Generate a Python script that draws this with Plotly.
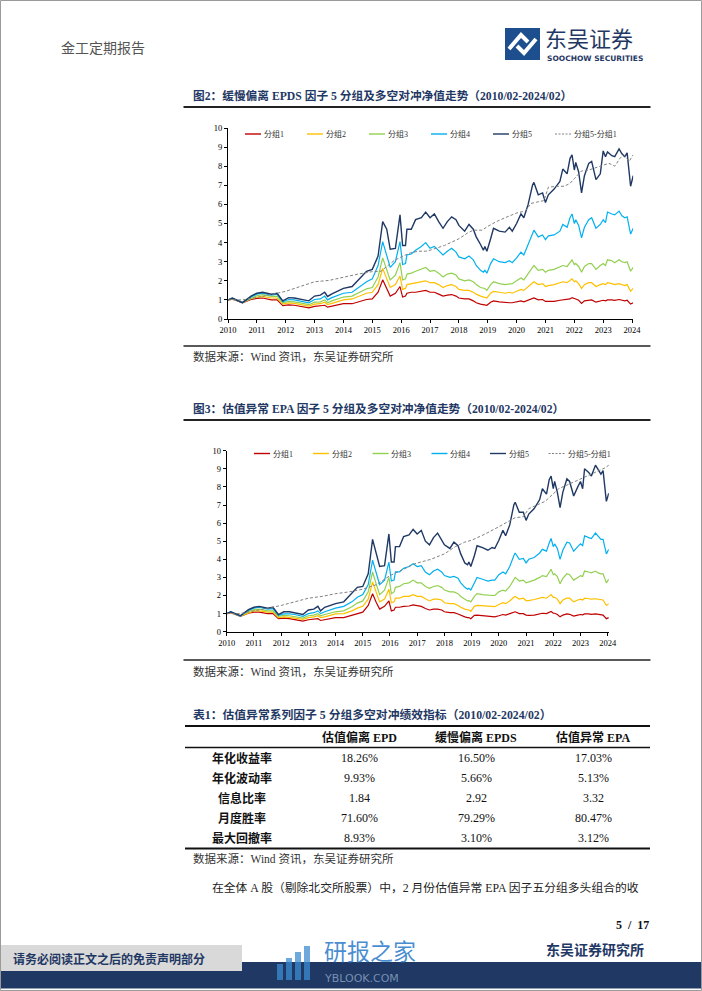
import plotly.graph_objects as go

W, H = 702, 991
def px(x): return x / W
def py(y): return 1 - y / H

# ---------------- data ----------------
years = list(range(2010, 2025))
year_labels = [str(y) for y in years]
series_names = ["分组1", "分组2", "分组3", "分组4", "分组5"]
ls_name = "分组5-分组1"

dates = [2010.0, 2010.15, 2010.5, 2010.8, 2011.0, 2011.2, 2011.5, 2011.7, 2011.9, 2012.1,
         2012.3, 2012.5, 2012.8, 2013.0, 2013.2, 2013.35, 2013.45, 2013.6, 2014.0, 2014.3,
         2014.6, 2014.8, 2015.0, 2015.2, 2015.36, 2015.5, 2015.62, 2015.8, 2015.96, 2016.05,
         2016.15, 2016.2, 2016.35, 2016.5, 2016.7, 2016.85, 2017.0, 2017.15, 2017.3, 2017.45,
         2017.6, 2017.75, 2017.9, 2018.0, 2018.2, 2018.35, 2018.5, 2018.6, 2018.75, 2018.85,
         2018.9, 2018.97, 2019.1, 2019.2, 2019.4, 2019.6, 2019.75, 2019.85, 2020.0, 2020.15,
         2020.25, 2020.4, 2020.55, 2020.6, 2020.75, 2020.9, 2021.0, 2021.1, 2021.3, 2021.5,
         2021.6, 2021.75, 2021.85, 2021.92, 2022.0, 2022.05, 2022.15, 2022.25, 2022.35, 2022.5,
         2022.6, 2022.75, 2022.9, 2023.0, 2023.08, 2023.15, 2023.3, 2023.4, 2023.55, 2023.65,
         2023.75, 2023.83, 2023.95, 2024.04]

# Figure 2: EPDS
epds_g1 = [1.00, 1.05, 0.85, 1.02, 1.08, 1.10, 1.00, 1.00, 0.70, 0.74,
           0.72, 0.66, 0.58, 0.66, 0.68, 0.72, 0.62, 0.68, 0.80, 0.80,
           0.95, 1.02, 1.05, 1.40, 2.05, 1.60, 1.20, 1.35, 1.70, 1.15,
           1.20, 1.35, 1.40, 1.40, 1.45, 1.50, 1.40, 1.40, 1.30, 1.20,
           1.25, 1.28, 1.20, 1.10, 1.05, 1.05, 0.95, 0.85, 0.78, 0.75,
           0.75, 0.72, 0.88, 0.95, 0.90, 0.85, 0.85, 0.85, 0.90, 0.95,
           0.90, 0.98, 1.08, 1.10, 1.00, 1.02, 0.92, 0.92, 0.92, 0.98,
           1.00, 1.00, 1.05, 1.12, 1.05, 1.05, 0.98, 0.82, 0.95, 1.00,
           1.00, 0.88, 0.95, 0.98, 0.95, 1.00, 1.00, 0.98, 1.02, 0.98,
           0.95, 0.98, 0.78, 0.85]
epds_g2 = [1.00, 1.07, 0.86, 1.06, 1.15, 1.18, 1.10, 1.10, 0.78, 0.84,
           0.82, 0.76, 0.68, 0.78, 0.80, 0.88, 0.75, 0.82, 1.00, 1.05,
           1.25, 1.35, 1.40, 1.80, 2.65, 2.10, 1.65, 1.80, 2.25, 1.55,
           1.60, 1.80, 1.85, 1.90, 1.95, 2.00, 1.90, 1.90, 1.80, 1.65,
           1.75, 1.80, 1.70, 1.55, 1.50, 1.50, 1.40, 1.30, 1.20, 1.15,
           1.15, 1.10, 1.35, 1.45, 1.40, 1.35, 1.40, 1.35, 1.45, 1.55,
           1.50, 1.70, 1.90, 1.95, 1.80, 1.85, 1.70, 1.75, 1.80, 1.90,
           1.95, 1.90, 2.00, 2.10, 1.95, 2.00, 1.85, 1.60, 1.80, 1.90,
           1.90, 1.70, 1.80, 1.85, 1.80, 1.90, 1.85, 1.80, 1.85, 1.80,
           1.75, 1.80, 1.45, 1.60]
epds_g3 = [1.00, 1.08, 0.87, 1.10, 1.22, 1.28, 1.18, 1.20, 0.85, 0.92,
           0.90, 0.84, 0.75, 0.88, 0.90, 1.00, 0.85, 0.95, 1.15, 1.20,
           1.45, 1.58, 1.65, 2.20, 3.20, 2.60, 2.05, 2.30, 2.95, 2.05,
           2.10, 2.35, 2.40, 2.50, 2.60, 2.70, 2.50, 2.55, 2.40, 2.20,
           2.35, 2.40, 2.30, 2.10, 2.00, 2.05, 1.95, 1.80, 1.65, 1.60,
           1.60, 1.50, 1.80, 1.95, 1.85, 1.80, 1.85, 1.85, 2.00, 2.15,
           2.05, 2.35, 2.70, 2.80, 2.55, 2.60, 2.45, 2.55, 2.60, 2.75,
           2.80, 2.75, 2.95, 3.10, 2.85, 2.90, 2.75, 2.45, 2.75, 2.90,
           2.90, 2.60, 2.80, 2.90, 2.80, 3.10, 3.05, 2.95, 3.10, 3.00,
           2.95, 3.00, 2.50, 2.70]
epds_g4 = [1.00, 1.09, 0.85, 1.15, 1.30, 1.35, 1.25, 1.30, 0.90, 1.02,
           1.00, 0.95, 0.85, 1.02, 1.05, 1.20, 1.00, 1.12, 1.35, 1.40,
           1.75, 1.95, 2.10, 2.80, 4.05, 3.30, 2.70, 3.00, 4.05, 2.85,
           2.90, 3.35, 3.40, 3.60, 3.80, 4.00, 3.70, 3.80, 3.60, 3.35,
           3.55, 3.70, 3.50, 3.25, 3.15, 3.30, 3.10, 2.80, 2.55, 2.45,
           2.55, 2.40, 2.90, 3.15, 3.00, 2.95, 3.05, 2.95, 3.20, 3.50,
           3.35, 3.90, 4.50, 4.65, 4.30, 4.40, 4.15, 4.35, 4.40, 4.60,
           4.95, 4.80, 5.30, 5.50, 5.00, 5.20, 4.90, 4.25, 4.80, 5.20,
           5.30, 4.75, 4.95, 5.20, 5.05, 5.60, 5.50, 5.45, 5.65, 5.40,
           5.30, 5.35, 4.45, 4.75]
epds_g5 = [1.00, 1.10, 0.86, 1.20, 1.35, 1.40, 1.30, 1.35, 0.95, 1.12,
           1.10, 1.05, 0.95, 1.20, 1.25, 1.40, 1.18, 1.32, 1.60, 1.70,
           2.20, 2.50, 2.60, 3.30, 5.10, 4.70, 3.65, 3.70, 5.45, 3.85,
           3.85, 4.70, 4.70, 5.20, 5.30, 5.60, 5.30, 5.50, 5.10, 4.75,
           5.10, 5.35, 5.20, 4.90, 4.60, 4.95, 4.70, 4.30, 3.90, 3.60,
           3.80, 3.55, 4.20, 4.75, 4.60, 4.55, 4.80, 4.60, 5.00, 5.50,
           5.30, 6.00, 7.00, 7.15, 6.50, 6.60, 6.10, 6.50, 6.80, 7.20,
           7.85, 7.60, 8.40, 8.60, 7.80, 8.20, 7.70, 6.60, 7.50, 8.15,
           8.25, 7.30, 7.60, 8.80, 8.50, 8.75, 8.55, 8.50, 8.90, 8.65,
           8.50, 8.70, 6.95, 7.50]
epds_ls_dates = [2010.0, 2010.5, 2011.0, 2011.5, 2012.0, 2012.5, 2013.0, 2013.5, 2014.0, 2014.5,
                 2015.0, 2015.3, 2015.5, 2015.75, 2016.0, 2016.3, 2016.6, 2016.85, 2017.0, 2017.5,
                 2018.0, 2018.3, 2018.5, 2018.8, 2019.0, 2019.3, 2019.6, 2020.0, 2020.3, 2020.5,
                 2020.7, 2020.95, 2021.1, 2021.4, 2021.65, 2021.85, 2022.0, 2022.25, 2022.5, 2022.8,
                 2023.0, 2023.2, 2023.4, 2023.6, 2023.75, 2023.9, 2024.04]
epds_ls = [1.00, 1.00, 1.12, 1.30, 1.45, 1.70, 1.95, 2.02, 2.20, 2.35,
           2.48, 2.50, 2.75, 3.05, 3.25, 3.45, 3.55, 3.55, 3.60, 3.85,
           4.20, 4.50, 4.65, 4.65, 4.85, 5.10, 5.30, 5.55, 5.65, 6.05,
           6.12, 6.20, 6.90, 6.95, 6.95, 7.10, 7.35, 7.75, 7.80, 7.95,
           8.05, 8.15, 8.00, 8.45, 8.55, 8.25, 8.60]

# Figure 3: EPA
epa_g1 = [1.00, 1.05, 0.85, 1.02, 1.08, 1.08, 1.00, 1.00, 0.72, 0.75,
          0.72, 0.65, 0.58, 0.66, 0.68, 0.72, 0.62, 0.66, 0.78, 0.78,
          0.90, 1.02, 1.08, 1.45, 2.10, 1.60, 1.25, 1.40, 1.70, 1.15,
          1.20, 1.35, 1.35, 1.40, 1.42, 1.48, 1.42, 1.40, 1.28, 1.20,
          1.25, 1.25, 1.20, 1.10, 1.05, 1.05, 0.98, 0.90, 0.82, 0.78,
          0.78, 0.72, 0.90, 0.92, 0.88, 0.85, 0.82, 0.82, 0.88, 0.95,
          0.92, 0.98, 1.08, 1.10, 1.00, 1.00, 0.92, 0.90, 0.92, 0.98,
          1.02, 1.00, 1.05, 1.12, 1.02, 1.02, 0.95, 0.82, 0.92, 0.98,
          0.96, 0.86, 0.92, 0.95, 0.93, 0.98, 0.98, 0.96, 0.98, 0.95,
          0.92, 0.92, 0.72, 0.78]
epa_g2 = [1.00, 1.07, 0.86, 1.06, 1.15, 1.15, 1.08, 1.08, 0.78, 0.82,
          0.80, 0.75, 0.68, 0.78, 0.82, 0.88, 0.78, 0.82, 0.98, 1.00,
          1.15, 1.30, 1.40, 1.80, 2.75, 2.10, 1.65, 1.80, 2.35, 1.60,
          1.65, 1.85, 1.85, 1.95, 1.95, 2.05, 1.95, 1.95, 1.80, 1.70,
          1.80, 1.80, 1.75, 1.60, 1.55, 1.55, 1.45, 1.35, 1.25, 1.20,
          1.20, 1.12, 1.40, 1.45, 1.42, 1.38, 1.38, 1.38, 1.50, 1.60,
          1.55, 1.70, 1.90, 1.95, 1.80, 1.85, 1.72, 1.72, 1.78, 1.85,
          1.90, 1.85, 1.95, 2.05, 1.90, 1.90, 1.80, 1.55, 1.75, 1.85,
          1.85, 1.65, 1.75, 1.80, 1.75, 1.85, 1.82, 1.80, 1.82, 1.78,
          1.75, 1.75, 1.45, 1.55]
epa_g3 = [1.00, 1.08, 0.87, 1.12, 1.22, 1.25, 1.15, 1.15, 0.85, 0.90,
          0.88, 0.82, 0.75, 0.88, 0.92, 1.00, 0.88, 0.95, 1.10, 1.15,
          1.38, 1.58, 1.70, 2.20, 3.30, 2.60, 2.05, 2.30, 3.00, 2.10,
          2.20, 2.45, 2.50, 2.65, 2.70, 2.85, 2.70, 2.70, 2.50, 2.40,
          2.50, 2.55, 2.45, 2.30, 2.20, 2.20, 2.10, 1.95, 1.80, 1.70,
          1.72, 1.65, 1.95, 2.10, 2.05, 2.00, 2.00, 2.00, 2.20, 2.30,
          2.25, 2.50, 2.90, 3.00, 2.80, 2.85, 2.70, 2.75, 2.85, 3.00,
          3.10, 3.05, 3.30, 3.45, 3.15, 3.20, 3.05, 2.65, 2.95, 3.20,
          3.15, 2.85, 3.00, 3.10, 3.05, 3.35, 3.30, 3.25, 3.35, 3.25,
          3.20, 3.20, 2.70, 2.90]
epa_g4 = [1.00, 1.09, 0.87, 1.18, 1.30, 1.35, 1.25, 1.28, 0.90, 0.98,
          0.98, 0.95, 0.85, 1.00, 1.05, 1.15, 1.00, 1.10, 1.30, 1.40,
          1.65, 1.90, 2.05, 2.60, 3.95, 3.20, 2.60, 2.85, 3.85, 2.80,
          2.85, 3.30, 3.30, 3.50, 3.60, 3.75, 3.60, 3.65, 3.30, 3.15,
          3.35, 3.45, 3.30, 3.10, 3.00, 3.05, 2.95, 2.70, 2.45, 2.35,
          2.40, 2.30, 2.75, 3.00, 2.90, 2.80, 2.85, 2.85, 3.15, 3.30,
          3.20, 3.60, 4.20, 4.35, 4.00, 4.05, 3.80, 4.00, 4.10, 4.35,
          4.55, 4.45, 4.90, 5.15, 4.70, 4.85, 4.60, 4.00, 4.50, 4.95,
          4.90, 4.45, 4.70, 4.85, 4.75, 5.30, 5.20, 5.15, 5.45, 5.25,
          5.10, 5.10, 4.30, 4.55]
epa_g5 = [1.00, 1.10, 0.88, 1.22, 1.35, 1.40, 1.30, 1.35, 0.95, 1.10,
          1.10, 1.05, 0.95, 1.20, 1.25, 1.40, 1.15, 1.35, 1.55, 1.65,
          2.10, 2.45, 2.50, 3.20, 5.10, 4.20, 3.60, 3.65, 5.40, 3.85,
          3.85, 4.70, 4.70, 5.25, 5.35, 5.65, 5.40, 5.60, 5.00, 4.80,
          5.20, 5.45, 5.10, 4.80, 4.60, 4.95, 4.75, 4.30, 3.80, 3.70,
          3.85, 3.60, 4.20, 4.75, 4.65, 4.50, 4.65, 4.60, 5.05, 5.60,
          5.30, 5.90, 7.00, 7.15, 6.60, 6.60, 6.15, 6.50, 6.80, 7.30,
          7.90, 7.60, 8.40, 8.60, 7.90, 8.30, 7.70, 6.85, 7.70, 8.45,
          8.30, 7.50, 8.00, 8.30, 7.90, 9.00, 8.80, 8.60, 9.20, 8.95,
          8.70, 8.90, 7.20, 7.65]
epa_ls_dates = [2010.0, 2010.5, 2011.0, 2011.5, 2012.0, 2012.5, 2013.0, 2013.5, 2014.0, 2014.5,
                2015.0, 2015.5, 2016.0, 2016.5, 2016.9, 2017.5, 2018.0, 2018.4, 2018.75, 2019.0,
                2019.5, 2020.0, 2020.6, 2020.9, 2021.1, 2021.7, 2022.2, 2022.8, 2023.3, 2023.6,
                2023.9, 2024.04]
epa_ls = [1.00, 1.00, 1.15, 1.28, 1.45, 1.65, 1.85, 1.95, 2.10, 2.20,
          2.35, 2.60, 3.10, 3.45, 3.75, 4.00, 4.30, 4.70, 4.95, 5.05,
          5.40, 5.80, 6.30, 6.35, 6.80, 7.20, 7.90, 8.30, 8.65, 8.85,
          9.05, 9.20]

# Table 1
table_cols = ["估值偏离 EPD", "缓慢偏离 EPDS", "估值异常 EPA"]
table_rows = ["年化收益率", "年化波动率", "信息比率", "月度胜率", "最大回撤率"]
col_epd = ["18.26%", "9.93%", "1.84", "71.60%", "8.93%"]
col_epds = ["16.50%", "5.66%", "2.92", "79.29%", "3.10%"]
col_epa = ["17.03%", "5.13%", "3.32", "80.47%", "3.12%"]

# ---------------- styles ----------------
colors = ["#C00000", "#FFC000", "#92D050", "#00B0F0", "#1F3864"]
ls_color = "#808080"
NAVY = "#1F3864"
SERIF = "Liberation Serif, Noto Sans CJK SC, serif"
CJK = "Noto Sans CJK SC, sans-serif"

fig = go.Figure()

chart_specs = [
    dict(ax="x", ay="y", groups=[epds_g1, epds_g2, epds_g3, epds_g4, epds_g5],
         ls_x=epds_ls_dates, ls_y=epds_ls),
    dict(ax="x2", ay="y2", groups=[epa_g1, epa_g2, epa_g3, epa_g4, epa_g5],
         ls_x=epa_ls_dates, ls_y=epa_ls),
]
for spec in chart_specs:
    for name, col, vals in zip(series_names, colors, spec["groups"]):
        fig.add_trace(go.Scatter(x=dates, y=vals, mode="lines", name=name,
                                 line=dict(color=col, width=1.4 if col == NAVY else 1.2),
                                 xaxis=spec["ax"], yaxis=spec["ay"], showlegend=False,
                                 hoverinfo="skip"))
    fig.add_trace(go.Scatter(x=spec["ls_x"], y=spec["ls_y"], mode="lines", name=ls_name,
                             line=dict(color=ls_color, width=1, dash="3px,2px"),
                             xaxis=spec["ax"], yaxis=spec["ay"], showlegend=False,
                             hoverinfo="skip"))

def xaxis_cfg(x0, x1, anchor):
    return dict(domain=[px(x0), px(x1)], range=[2010, 2024.04], anchor=anchor,
                tickmode="array", tickvals=years, ticktext=year_labels,
                showline=True, linecolor="#000", linewidth=1, ticks="outside",
                ticklen=3, tickcolor="#000", showgrid=False, zeroline=False,
                tickfont=dict(family=SERIF, size=8.5, color="#000"), fixedrange=True)

def yaxis_cfg(y_top, y_bot, anchor):
    return dict(domain=[py(y_bot), py(y_top)], range=[0, 10], anchor=anchor,
                dtick=1, tick0=0, showline=True, linecolor="#000", linewidth=1,
                ticks="outside", ticklen=3, tickcolor="#000", showgrid=False,
                zeroline=False, tickfont=dict(family=SERIF, size=8.5, color="#000"),
                fixedrange=True)

shapes = []
annots = []

def hline(x0, x1, y, w=1, color="#222"):
    shapes.append(dict(type="line", xref="paper", yref="paper", x0=px(x0), x1=px(x1),
                       y0=py(y), y1=py(y), line=dict(color=color, width=w)))

def rect(x0, y0, x1, y1, fill, line_color=None, lw=0):
    shapes.append(dict(type="rect", xref="paper", yref="paper", x0=px(x0), x1=px(x1),
                       y0=py(y1), y1=py(y0), fillcolor=fill,
                       line=dict(color=line_color or fill, width=lw), layer="below"))

def text(x, y, s, size=11, color="#222", family=SERIF, anchor="left"):
    annots.append(dict(xref="paper", yref="paper", x=px(x), y=py(y), text=s,
                       showarrow=False, xanchor=anchor, yanchor="middle",
                       font=dict(size=size, color=color, family=family)))

# page border
shapes.append(dict(type="rect", xref="paper", yref="paper", x0=px(0.5), x1=px(701.5),
                   y0=py(990.5), y1=py(0.5), line=dict(color="#9a9a9a", width=1)))

# header
text(59, 47, "金工定期报告", size=14, color="#555", family=CJK)
rect(505, 28, 540, 60, "#1D4F8F")
shapes.append(dict(type="path", xref="paper", yref="paper",
                   path=f"M {px(509)},{py(49)} L {px(521)},{py(35)} L {px(528)},{py(42)}",
                   line=dict(color="white", width=4)))
shapes.append(dict(type="path", xref="paper", yref="paper",
                   path=f"M {px(517)},{py(46)} L {px(524)},{py(53)} L {px(536)},{py(39)}",
                   line=dict(color="white", width=4)))
text(543, 36.5, "东吴证券", size=22, color=NAVY, family=CJK)
text(545, 58, "<b>SOOCHOW SECURITIES</b>", size=7.5, color=NAVY, family="DejaVu Sans")

# figure 2 title + lines
text(191, 96, "<b>图2：缓慢偏离 EPDS 因子 5 分组及多空对冲净值走势（2010/02-2024/02）</b>",
     size=11.7, color=NAVY)
hline(183.5, 650.5, 107, 2)
hline(183.5, 650.5, 346, 1.5)
text(191, 356, "数据来源：Wind 资讯，东吴证券研究所", size=11.5, color="#333")

# figure 3 title + lines
text(191, 409, "<b>图3：估值异常 EPA 因子 5 分组及多空对冲净值走势（2010/02-2024/02）</b>",
     size=11.7, color=NAVY)
hline(183.5, 650.5, 420, 2)
hline(183.5, 650.5, 660, 1.5)
text(191, 671, "数据来源：Wind 资讯，东吴证券研究所", size=11.5, color="#333")

# manual legends
legend_sets = [([245, 307, 369, 431, 493, 555], 134),
               ([254, 313, 372.5, 431.5, 490, 548.5], 453.5)]
for starts, ly in legend_sets:
    for i, x0 in enumerate(starts):
        if i < 5:
            shapes.append(dict(type="line", xref="paper", yref="paper", x0=px(x0), x1=px(x0 + 16),
                               y0=py(ly), y1=py(ly), line=dict(color=colors[i], width=1.4)))
            label = series_names[i]
        else:
            shapes.append(dict(type="line", xref="paper", yref="paper", x0=px(x0), x1=px(x0 + 16),
                               y0=py(ly), y1=py(ly), line=dict(color=ls_color, width=1, dash="2px,1.5px")))
            label = ls_name
        text(x0 + 17, ly, label, size=8, color="#333")

# table
text(190.5, 715, "<b>表1：估值异常系列因子 5 分组多空对冲绩效指标（2010/02-2024/02）</b>",
     size=11.8, color=NAVY)
hline(185, 650, 726, 2, "#111")
hline(185, 650, 747.5, 1.3, "#111")
hline(185, 650, 848.5, 2, "#111")
col_x = [359, 476, 593]
for cx, c in zip(col_x, table_cols):
    text(cx, 737, f"<b>{c}</b>", size=12, color="#111", anchor="center")
row_y = [758.3, 778.3, 798.3, 818.3, 838.3]
for ry, rname, a, b, c in zip(row_y, table_rows, col_epd, col_epds, col_epa):
    text(241.7, ry, f"<b>{rname}</b>", size=12, color="#111", anchor="center")
    for cx, v in zip(col_x, (a, b, c)):
        text(cx, ry, v, size=12, color="#111", anchor="center")
text(191, 858, "数据来源：Wind 资讯，东吴证券研究所", size=11.5, color="#333")

# body text
text(209.5, 888, "在全体 A 股（剔除北交所股票）中，2 月份估值异常 EPA 因子五分组多头组合的收",
     size=11.8, color="#222")
text(651, 925, "<b>5  /  17</b>", size=12, color="#111", anchor="right")

# footer
rect(0, 962, 702, 988.5, "#1F3864")
rect(0, 945, 242, 971, "#D9D9D9")
text(11, 958, "<b>请务必阅读正文之后的免责声明部分</b>", size=12, color=NAVY, family=CJK)
text(544, 949, "<b>东吴证券研究所</b>", size=14, color=NAVY, family=CJK)
# watermark
for bx, bh in zip([277, 286, 295, 304], [16, 22, 28, 34]):
    rect(bx, 980 - bh, bx + 6, 980, "rgba(60,140,210,0.75)")
text(322, 950, "研报之家", size=23, color="rgba(40,120,200,0.85)", family=CJK)
text(322, 978, "YBLOOK.COM", size=11, color="rgba(150,175,205,0.75)", family="DejaVu Sans")

fig.update_layout(
    width=W, height=H, margin=dict(l=0, r=0, t=0, b=0, autoexpand=False),
    paper_bgcolor="white", plot_bgcolor="rgba(0,0,0,0)",
    showlegend=False,
    xaxis=xaxis_cfg(228, 633.2, "y"),
    yaxis=yaxis_cfg(128, 319, "x"),
    xaxis2=xaxis_cfg(226.7, 608.8, "y2"),
    yaxis2=yaxis_cfg(450.7, 631.7, "x2"),
    shapes=shapes, annotations=annots,
    font=dict(family=SERIF),
)

fig.write_html("out.html", config={"displayModeBar": False},
               post_script="document.body.style.margin='0';document.body.style.overflow='hidden';")
